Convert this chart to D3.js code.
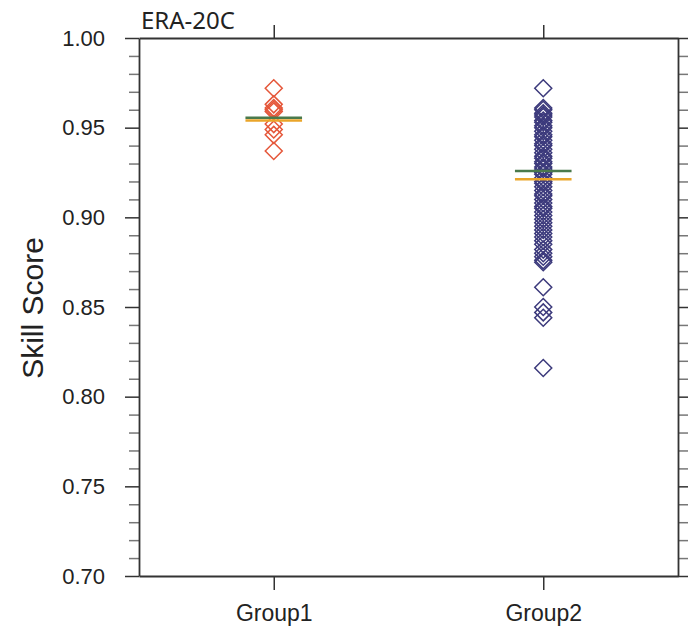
<!DOCTYPE html>
<html>
<head>
<meta charset="utf-8">
<script src="https://cdn.jsdelivr.net/npm/d3@7"></script>
<style>
  html, body { margin: 0; padding: 0; background: #fff; }
  svg { display: block; }
</style>
</head>
<body>
<svg id="chart" width="688" height="636"></svg>
<script>
// ---- data ----
const categories = ["Group1", "Group2"];
const group1 = [0.972, 0.963, 0.961, 0.960, 0.959, 0.952, 0.949, 0.946, 0.937];
const group2 = [0.972,
  0.961, 0.960, 0.958, 0.957, 0.956, 0.954, 0.953, 0.951, 0.950, 0.948,
  0.946, 0.945, 0.943, 0.941, 0.940, 0.938, 0.936, 0.934, 0.933, 0.931,
  0.930, 0.928, 0.927, 0.925, 0.924, 0.922, 0.920, 0.919, 0.917, 0.915,
  0.913, 0.912, 0.910, 0.908, 0.906, 0.905, 0.903, 0.901, 0.899, 0.897,
  0.895, 0.893, 0.891, 0.889, 0.887, 0.885, 0.882, 0.880, 0.878, 0.876,
  0.875, 0.861, 0.850, 0.847, 0.844, 0.816];
const seriesValues = [group1, group2];
const meanValues = [0.9555, 0.9258];
const medianValues = [0.9540, 0.9212];
const yMajorTicks = [0.70, 0.75, 0.80, 0.85, 0.90, 0.95, 1.00];
const yTickLabels = ["0.70", "0.75", "0.80", "0.85", "0.90", "0.95", "1.00"];
const title = "ERA-20C";
const yTitle = "Skill Score";

// ---- layout ----
const L = 139, R = 678, T = 38, B = 576;
const colors = ["#e5573a", "#3c3a7c"];
const meanColor = "#4a7a4c", medianColor = "#eaa52a";
const svg = d3.select("#chart");

const x = d3.scaleLinear().domain([0, 4]).range([L, R]);
const xPos = d3.scalePoint().domain(categories).range([1, 3]);
const y = d3.scaleLinear().domain([0.70, 1.00]).range([B, T]);

const minorTicks = d3.range(70, 101).map(v => v / 100).filter(v => Math.round(v * 100) % 5 !== 0);

function styleAxis(g, color) {
  g.select(".domain").attr("stroke", "#333").attr("stroke-width", 1.8);
  g.selectAll(".tick line").attr("stroke", color).attr("stroke-width", 1.5);
}

// minor ticks
const minorL = svg.append("g").attr("transform", `translate(${L},0)`)
  .call(d3.axisLeft(y).tickValues(minorTicks).tickSize(10).tickFormat(""));
minorL.select(".domain").remove();
styleAxis(minorL, "#777");
const minorR = svg.append("g").attr("transform", `translate(${R},0)`)
  .call(d3.axisRight(y).tickValues(minorTicks).tickSize(10).tickFormat(""));
minorR.select(".domain").remove();
styleAxis(minorR, "#777");

// major y axes
const yL = svg.append("g").attr("transform", `translate(${L},0)`)
  .call(d3.axisLeft(y).tickValues(yMajorTicks).tickSize(14).tickSizeOuter(0).tickPadding(20)
    .tickFormat((d, i) => yTickLabels[i]));
styleAxis(yL, "#333");
yL.selectAll("text").attr("font-family", "Liberation Sans, Arial, sans-serif")
  .attr("font-size", 22).attr("fill", "#222");

const yR = svg.append("g").attr("transform", `translate(${R},0)`)
  .call(d3.axisRight(y).tickValues(yMajorTicks).tickSize(10).tickSizeOuter(0).tickFormat(""));
styleAxis(yR, "#333");

// x axes
const xB = svg.append("g").attr("transform", `translate(0,${B})`)
  .call(d3.axisBottom(x).tickValues(categories.map(c => xPos(c))).tickSize(14).tickSizeOuter(0)
    .tickPadding(15).tickFormat((d, i) => categories[i]));
styleAxis(xB, "#333");
xB.selectAll("text").attr("font-family", "Liberation Sans, Arial, sans-serif")
  .attr("font-size", 23).attr("fill", "#222");

const xT = svg.append("g").attr("transform", `translate(0,${T})`)
  .call(d3.axisTop(x).tickValues(categories.map(c => xPos(c))).tickSize(13).tickSizeOuter(0).tickFormat(""));
styleAxis(xT, "#333");

// y title
svg.append("text")
  .attr("transform", `translate(43,${(T + B) / 2 + 1}) rotate(-90)`)
  .attr("text-anchor", "middle")
  .attr("font-family", "Liberation Sans, Arial, sans-serif")
  .attr("font-size", 30).attr("fill", "#222")
  .text(yTitle);

// title
svg.append("text")
  .attr("x", L + 2).attr("y", 29)
  .attr("font-family", "Noto Sans, Open Sans, sans-serif")
  .attr("font-size", 24).attr("fill", "#222")
  .text(title);

// diamonds
const diamond = d3.symbol().type(d3.symbolDiamond2).size(184);
categories.forEach((c, i) => {
  svg.append("g").selectAll("path")
    .data(seriesValues[i]).enter().append("path")
    .attr("d", diamond)
    .attr("transform", d => `translate(${x(xPos(c))},${y(d)})`)
    .attr("fill", "none")
    .attr("stroke", colors[i])
    .attr("stroke-width", 1.5);
});

// mean / median lines
const halfW = 0.21;
categories.forEach((c, i) => {
  const cx = xPos(c);
  svg.append("line")
    .attr("x1", x(cx - halfW)).attr("x2", x(cx + halfW))
    .attr("y1", y(medianValues[i])).attr("y2", y(medianValues[i]))
    .attr("stroke", medianColor).attr("stroke-width", 2.6);
  svg.append("line")
    .attr("x1", x(cx - halfW)).attr("x2", x(cx + halfW))
    .attr("y1", y(meanValues[i])).attr("y2", y(meanValues[i]))
    .attr("stroke", meanColor).attr("stroke-width", 2.6);
});
</script>
</body>
</html>
